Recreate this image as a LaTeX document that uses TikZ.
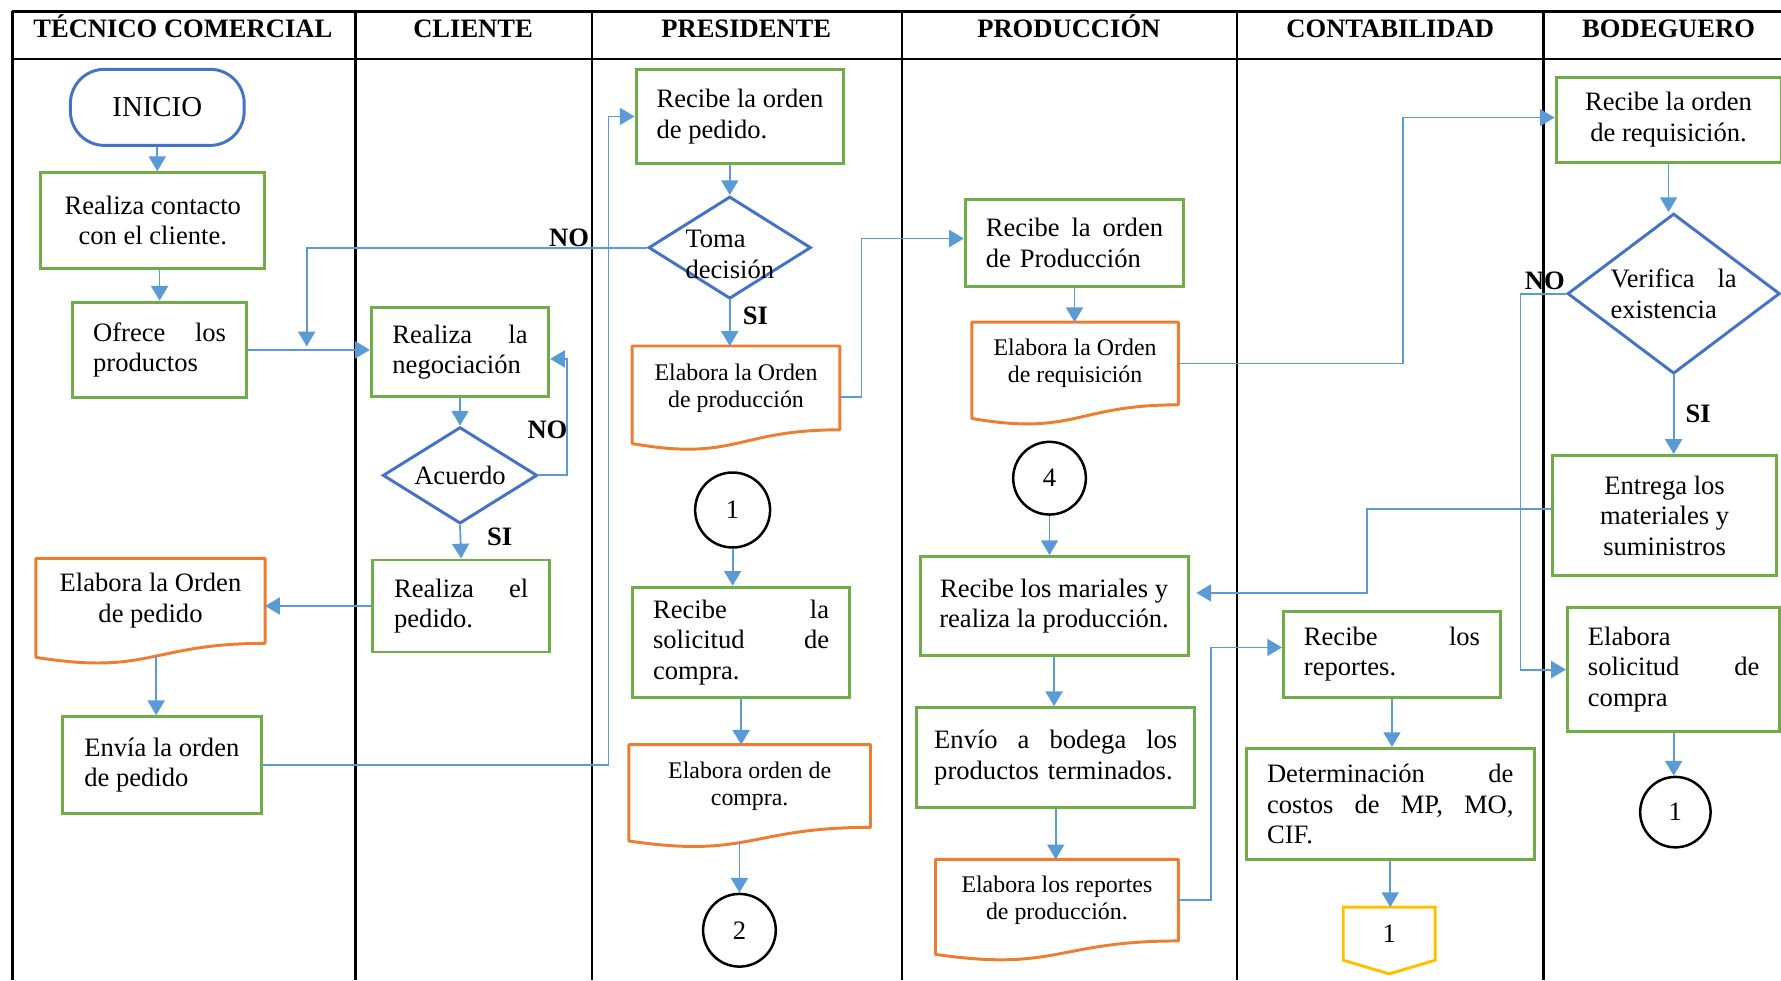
\documentclass[tikz,border=0pt]{standalone}
\usepackage{fontspec}
\setmainfont{Liberation Serif}
\usepackage{color}
\usetikzlibrary{shapes.geometric,arrows.meta,calc}

\definecolor{boxgreen}{HTML}{70AD47}
\definecolor{docorange}{HTML}{ED7D31}
\definecolor{decblue}{HTML}{4472C4}
\definecolor{flowblue}{HTML}{5B9BD5}
\definecolor{offyellow}{HTML}{FFC000}

% outline of a document symbol around a node
\newcommand{\docframe}[1]{%
  \draw[docorange,line width=1.3pt,line join=round]
    (#1.south east) -- (#1.north east) -- (#1.north west)
    -- ($(#1.north west)!1.1646!(#1.south west)$)
    .. controls ($(#1.north)!1.381!(#1.south)$) and (#1.south) .. (#1.south east) -- cycle;}

\begin{document}
\begin{tikzpicture}[x=0.5pt,y=-0.5pt,
    txt/.style={font=\fontsize{11.7}{13.5}\selectfont},
    proc/.style={txt,draw=boxgreen,line width=1.3pt,inner sep=0pt},
    docbox/.style={font=\fontsize{10.5}{12}\selectfont,inner sep=0pt,align=center},
    dec/.style={txt,diamond,draw=decblue,line width=1.3pt,inner sep=0pt},
    conn/.style={txt,circle,draw=black,line width=1.1pt,inner sep=0pt},
    flow/.style={flowblue,line width=0.8pt,-{Triangle[width=7.5pt,length=6.5pt]}},
    yesno/.style={font=\fontsize{11.7}{13.5}\selectfont\bfseries},
    head/.style={font=\fontsize{11.7}{13.5}\selectfont\bfseries,anchor=base},
    lane/.style={line width=1.1pt}]
  \useasboundingbox (0,0) rectangle (1568,863);

  % table
  \draw[lane] (11,10) -- (1568,10);
  \draw[lane] (11,52) -- (1568,52);
  \foreach \x in {11,313,521,794,1089,1359}
    \draw[lane] (\x,10) -- (\x,863);
  \node[head] (hTecnico) at (161,33) {TÉCNICO COMERCIAL};
  \node[head] (hCliente) at (416.5,33) {CLIENTE};
  \node[head] (hPresidente) at (657,33) {PRESIDENTE};
  \node[head] (hProduccion) at (941,33) {PRODUCCIÓN};
  \node[head] (hContabilidad) at (1224,33) {CONTABILIDAD};
  \node[head] (hBodeguero) at (1469,33) {BODEGUERO};

  % tecnico comercial
  \node[proc,draw=decblue,rounded corners=15pt,minimum width=76.5pt,minimum height=33.5pt,
        font=\fontsize{12.7}{14}\selectfont] (inicio) at (138.5,94.5) {INICIO};
  \node[proc,minimum width=98.5pt,minimum height=42pt,align=center] (contacto) at (134.5,194)
    {Realiza contacto\\con el cliente.};
  \node[proc,minimum width=76.5pt,minimum height=42pt,text width=58.5pt,align=left] (ofrece) at (140.5,308)
    {Ofrece\hfill los\\productos};
  \node[docbox,font=\fontsize{11.7}{13.5}\selectfont,minimum width=100.5pt,minimum height=37pt] (docPedido) at (132.5,529)
    {Elabora la Orden\\de pedido};
  \docframe{docPedido}
  \coordinate (docPedidoBot) at ($(docPedido.south)+(5,11)$);
  \node[proc,minimum width=87.5pt,minimum height=42.5pt,align=left] (envia) at (142.5,673.5)
    {Envía la orden\\de pedido};

  % cliente
  \node[proc,minimum width=78pt,minimum height=39pt,text width=59.5pt,align=left] (negociacion) at (405,310)
    {Realiza\hfill la\\negociación};
  \node[dec,minimum width=68pt,minimum height=42.5pt,aspect=1.6] (acuerdo) at (405,418.5) {Acuerdo};
  \node[proc,minimum width=78pt,minimum height=40.5pt,text width=59pt,align=left] (pedido) at (406,533.5)
    {Realiza\hfill el\\pedido.};

  % presidente
  \node[proc,minimum width=91.5pt,minimum height=41.5pt,align=left] (recibePedido) at (651.5,102.5)
    {Recibe la orden\\de pedido.};
  \node[dec,minimum width=71.5pt,minimum height=45pt,aspect=1.59,inner xsep=-6pt,text height=27pt,align=left] (decision) at (642.5,218)
    {Toma\\decisión};
  \node[docbox,minimum width=91pt,minimum height=36.5pt] (docProduccion) at (648,341.5)
    {Elabora la Orden\\de producción};
  \docframe{docProduccion}
  \node[conn,minimum size=33pt] (c1) at (645,449) {1};
  \node[proc,minimum width=95.5pt,minimum height=48.5pt,text width=77.5pt,align=left] (solicitud) at (652.5,565.5)
    {Recibe\hfill la\\solicitud\hfill de\\compra.};
  \node[docbox,minimum width=106pt,minimum height=36pt] (docCompra) at (660,692)
    {Elabora orden de\\compra.};
  \docframe{docCompra}
  \coordinate (docCompraBot) at ($(docCompra.south)+(0,12)$);
  \node[conn,minimum size=32pt] (c2) at (651,819) {2};

  % produccion
  \node[proc,minimum width=96pt,minimum height=38pt,text width=78pt,align=left] (recibeProd) at (946,214)
    {Recibe\hfill la\hfill orden\\de Producción};
  \node[docbox,minimum width=90.5pt,minimum height=36pt] (docRequisicion) at (946.5,320)
    {Elabora la Orden\\de requisición};
  \docframe{docRequisicion}
  \node[conn,minimum size=32pt] (c4) at (924,421) {4};
  \node[proc,minimum width=118pt,minimum height=43.5pt,align=center] (mariales) at (928,533.5)
    {Recibe los mariales y\\realiza la producción.};
  \node[proc,minimum width=122.5pt,minimum height=44pt,text width=107pt,align=left] (envio) at (929.5,667)
    {Envío\hfill a\hfill bodega\hfill los\\productos terminados.};
  \node[docbox,minimum width=106.5pt,minimum height=35.5pt] (docReportes) at (930.5,792.5)
    {Elabora los reportes\\de producción.};
  \docframe{docReportes}

  % contabilidad
  \node[proc,minimum width=95.5pt,minimum height=38pt,text width=77.5pt,align=left] (reportes) at (1225.5,576)
    {Recibe\hfill los\\reportes.};
  \node[proc,minimum width=127pt,minimum height=49pt,text width=108.5pt,align=left] (costos) at (1224,708)
    {Determinación\hfill de\\costos\hfill de\hfill MP,\hfill MO,\\CIF.};
  \node[txt,minimum width=40pt,minimum height=23pt,inner sep=0pt] (off1) at (1223,822) {1};
  \draw[offyellow,line width=1.3pt] (off1.north west) -- (off1.north east) -- (off1.south east)
    -- ($(off1.south)+(0,12)$) -- (off1.south west) -- cycle;

  % bodeguero
  \node[proc,minimum width=99pt,minimum height=37.5pt,align=center] (recibeReq) at (1469,105.5)
    {Recibe la orden\\de requisición.};
  \node[dec,minimum width=93.5pt,minimum height=70.5pt,aspect=1.33,text width=55.5pt,align=left] (verifica) at (1473.5,258.5)
    {Verifica\hfill la\\existencia};
  \node[proc,minimum width=98.5pt,minimum height=53pt,align=center] (entrega) at (1465.5,454)
    {Entrega los\\materiales y\\suministros};
  \node[proc,minimum width=93.5pt,minimum height=54.5pt,text width=75.5pt,align=left] (solCompra) at (1473.5,589.5)
    {Elabora\\solicitud\hfill de\\compra};
  \node[conn,minimum size=31pt] (c1b) at (1475,715) {1};

  % connectors
  \coordinate (noEnd) at (270,305);
  \draw[flow] (inicio.south) -- (inicio.south |- contacto.north);
  \draw[flow] (ofrece.north |- contacto.south) -- (ofrece.north);
  \draw[flow] (ofrece.east) -- (ofrece.east -| negociacion.west);
  \draw[flow] (decision.west) -| (noEnd);
  \draw[flow] (negociacion.south) -- (acuerdo.north);
  \draw[flow] (acuerdo.east) -- ++(25,0) |- ($(negociacion.east)+(0,6)$);
  \draw[flow] (acuerdo.south) -- (pedido.north);
  \draw[flow] (pedido.west) -- (pedido.west -| docPedido.east);
  \draw[flow] (docPedidoBot) -- (docPedidoBot |- envia.north);
  \draw[flow] (envia.east) -| ([xshift=-11.5pt]recibePedido.west) -- (recibePedido.west);
  \draw[flow] (decision.north |- recibePedido.south) -- (decision.north);
  \draw[flow] (decision.south) -- (decision.south |- docProduccion.north);
  \draw[flow] ([yshift=-4pt]docProduccion.east) -- ++(19,0) |- ([yshift=2pt]recibeProd.west);
  \draw[flow] (c1.south) -- (c1.south |- solicitud.north);
  \draw[flow] (solicitud.south) -- (solicitud.south |- docCompra.north);
  \draw[flow] (c2.north |- docCompraBot) -- (c2.north);
  \draw[flow] (recibeProd.south) -- (recibeProd.south |- docRequisicion.north);
  \draw[flow] (docRequisicion.east) -- ++(198,0) |- ([yshift=1pt]recibeReq.west);
  \draw[flow] (c4.south) -- (c4.south |- mariales.north);
  \draw[flow] ([yshift=3pt]entrega.west) -- ++(-162,0) |- ([xshift=3pt,yshift=5.75pt]mariales.east);
  \draw[flow] (mariales.south) -- (mariales.south |- envio.north);
  \draw[flow] (envio.south) -- (envio.south |- docReportes.north);
  \draw[flow] (docReportes.east) -- ++(29,0) |- ([yshift=3pt]reportes.west);
  \draw[flow] (reportes.south) -- (reportes.south |- costos.north);
  \draw[flow] (costos.south) -- (costos.south |- off1.north);
  \draw[flow] (recibeReq.south) -- (recibeReq.south |- verifica.north);
  \draw[flow] (verifica.west) -- ++(-40,0) |- (solCompra.west);
  \draw[flow] (verifica.south) -- (verifica.south |- entrega.north);
  \draw[flow] (solCompra.south) -- (solCompra.south |- c1b.north);

  % answers
  \node[yesno] (noDecision) at (501,209) {NO};
  \node[yesno] (noAcuerdo) at (482,378) {NO};
  \node[yesno] (siAcuerdo) at (440,473) {SI};
  \node[yesno] (siDecision) at (665,278) {SI};
  \node[yesno] (noVerifica) at (1360,247) {NO};
  \node[yesno] (siVerifica) at (1495,364) {SI};
\end{tikzpicture}
\end{document}
